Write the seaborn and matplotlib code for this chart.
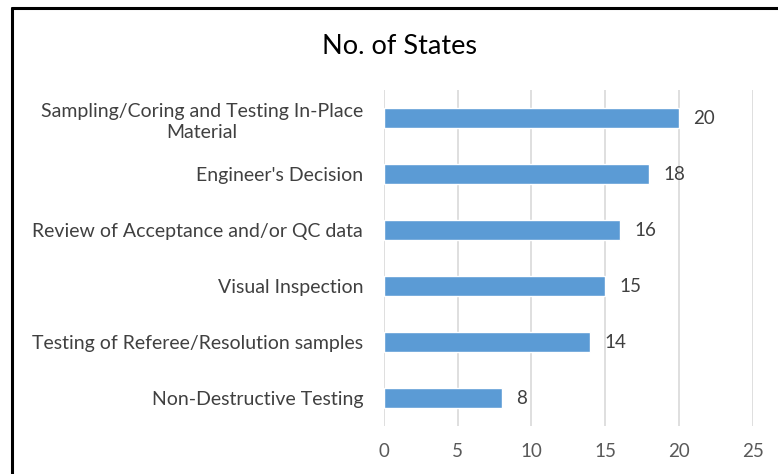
import pandas as pd
import matplotlib
matplotlib.use('Agg')
import matplotlib.pyplot as plt
from matplotlib.lines import Line2D
import seaborn as sns

categories = [
    'Sampling/Coring and Testing In-Place\nMaterial',
    "Engineer's Decision",
    'Review of Acceptance and/or QC data',
    'Visual Inspection',
    'Testing of Referee/Resolution samples',
    'Non-Destructive Testing',
]
states = [20, 18, 16, 15, 14, 8]
x_ticks = [0, 5, 10, 15, 20, 25]

df = pd.DataFrame({'method': categories, 'states': states})

sns.set_style('white')
plt.rcParams['font.family'] = ['Lato', 'DejaVu Sans']

W, H = 778, 474
fig = plt.figure(figsize=(W / 100, H / 100), dpi=100)
ax = fig.add_axes([384 / W, 1 - 426 / H, (752.7 - 384) / W, 336 / H])

sns.barplot(data=df, x='states', y='method', orient='h', color='#5B9BD5',
            saturation=1, width=0.36, ax=ax, zorder=3)

ax.set_xlim(0, 25)
ax.set_ylim(5.5, -0.5)
ax.set_xticks(x_ticks)
ax.xaxis.grid(True, color='#D9D9D9', linewidth=1.2, zorder=0)
ax.yaxis.grid(False)
for s in ax.spines.values():
    s.set_visible(False)
ax.set_xlabel('')
ax.set_ylabel('')
ax.tick_params(axis='x', colors='#595959', labelsize=13.5, length=0, pad=12)
ax.tick_params(axis='y', colors='#404040', labelsize=14, length=0, pad=15)
for lbl in ax.get_yticklabels():
    lbl.set_multialignment('center')
    lbl.set_linespacing(1.3)

for i, v in enumerate(states):
    ax.text(v + 0.95, i, str(v), va='center', ha='left', fontsize=13.5, color='#404040')

fig.text(400 / W, 1 - 47 / H, 'No. of States', ha='center', va='center',
         fontsize=19.5, color='#000000')

# border of the screenshot
fig.add_artist(Line2D([12 / W, 1], [1 - 8 / H, 1 - 8 / H], color='black', linewidth=2.2,
                      transform=fig.transFigure))
fig.add_artist(Line2D([12 / W, 12 / W], [0, 1 - 8 / H], color='black', linewidth=2.2,
                      transform=fig.transFigure))

fig.savefig('out.png', dpi=100)
